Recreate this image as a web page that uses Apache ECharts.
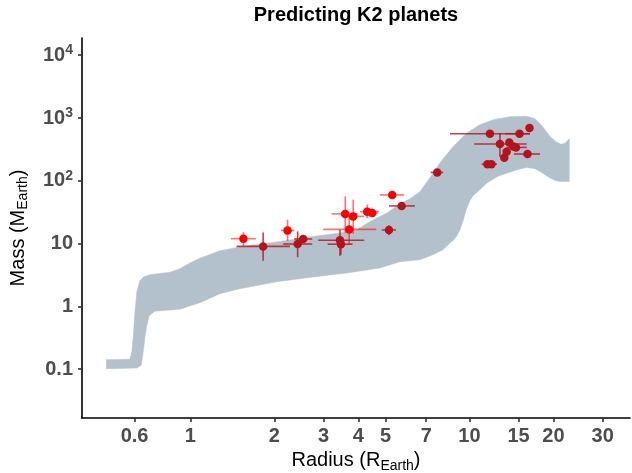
<!DOCTYPE html>
<html>
<head>
<meta charset="utf-8">
<script src="https://cdn.jsdelivr.net/npm/echarts@6/dist/echarts.min.js"></script>
<style>html,body{margin:0;padding:0;background:#fff}#c{width:632px;height:473px}</style>
</head>
<body>
<div id="c"></div>
<script>
// ---------- data ----------
const xTickValues = [0.631, 1, 2, 3, 4, 5, 7, 10, 15, 20, 30];
const xTickLabels = ['0.6', '1', '2', '3', '4', '5', '7', '10', '15', '20', '30'];
const yTickValues = [0.1, 1, 10, 100, 1000, 10000];
const yTickLabels = ['0.1', '1', '10', '10^2', '10^3', '10^4'];

// band (prediction region) edges
const bandUpperX = [0.50, 0.607, 0.617, 0.625, 0.633, 0.643, 0.659, 0.681, 0.716, 0.844, 0.917, 1.0, 1.082, 1.276, 1.505, 2.093, 2.748, 3.435, 3.953, 4.399, 5.063, 5.636, 6.119, 6.645, 7.22, 7.841, 8.729, 9.772, 10.9, 12.17, 13.97, 16.03, 17.17, 18.19, 19.43, 20.42, 21.28, 22.0, 22.79];
const bandUpperY = [0.142, 0.144, 0.19, 0.354, 0.823, 1.714, 2.566, 2.971, 3.198, 3.504, 3.984, 4.965, 5.855, 7.708, 8.83, 10.84, 13.02, 14.75, 16.65, 22.57, 30.72, 43.19, 51.88, 67.06, 112, 194.2, 349.1, 576.9, 782.2, 939.7, 1049, 1068, 974.8, 754.1, 509.3, 419.4, 382.5, 396.8, 468.1];
const bandLowerX = [0.50, 0.643, 0.667, 0.677, 0.687, 0.697, 0.712, 0.746, 0.917, 1.082, 1.276, 1.505, 2.042, 2.748, 3.638, 4.777, 5.636, 6.645, 7.401, 8.035, 8.514, 8.766, 9.02, 9.247, 9.478, 9.755, 10.04, 10.29, 10.90, 11.55, 12.60, 14.80, 16.03, 17.17, 17.89, 19.43, 20.42, 21.10, 22.79];
const bandLowerY = [0.102, 0.104, 0.116, 0.183, 0.317, 0.48, 0.711, 0.839, 0.902, 1.145, 1.593, 1.913, 2.474, 2.939, 3.403, 4.088, 5.15, 5.541, 6.658, 7.996, 10.22, 11.33, 13.3, 16.65, 23.0, 36.0, 48.0, 58.0, 72.17, 92.25, 117.5, 150.2, 163.5, 155.8, 141.1, 110.8, 100.4, 97.8, 97.8];

// planets, group A (bright red)
const aRadius   = [1.549, 2.230, 3.588, 3.832, 3.708, 4.302, 4.483, 5.288];
const aRadiusLo = [1.397, 2.111, 3.207, 3.669, 2.992, 4.051, 4.327, 4.777];
const aRadiusHi = [1.717, 2.359, 3.969, 4.187, 4.634, 4.738, 4.700, 5.834];
const aMass     = [11.97, 16.23, 29.7, 27.1, 16.83, 32.2, 30.8, 59.6];
const aMassLo   = [9.09, 11.04, 14.92, 14.38, 9.61, 25.4, 28.5, 55.0];
const aMassHi   = [15.19, 24.02, 56.4, 50.0, 27.1, 41.6, 33.5, 64.0];

// planets, group B (dark red)
const bRadius   = [1.823, 2.423, 2.537, 3.435, 3.463, 5.146, 5.715, 7.665, 11.60, 11.99, 11.84, 15.11, 16.41, 12.86, 13.89, 14.36, 14.68, 13.59, 13.33, 16.14];
const bRadiusLo = [1.464, 2.151, 2.355, 2.871, 3.103, 4.845, 5.146, 7.26, 11.06, 11.50, 8.514, 13.41, 16.41, 10.40, 13.89, 14.36, 13.59, 13.59, 13.33, 14.44];
const bRadiusHi = [2.274, 2.733, 2.733, 4.197, 3.814, 5.453, 6.378, 8.05, 12.52, 12.50, 16.48, 16.48, 16.41, 16.03, 13.89, 14.36, 16.03, 13.59, 13.33, 17.89];
const bMass     = [9.03, 9.85, 11.84, 11.32, 9.78, 16.52, 39.8, 136, 183.8, 183.8, 562, 562, 695, 385.5, 408.6, 353, 340.5, 290.5, 233.3, 267];
const bMassLo   = [5.34, 6.07, 10.72, 6.42, 6.66, 13.61, 37, 128, 170, 175, 562, 562, 695, 242, 408.6, 353, 340.5, 290.5, 233.3, 267];
const bMassHi   = [15.08, 15.64, 12.88, 16.65, 12.88, 19.63, 43, 145, 198, 192, 562, 562, 695, 577, 408.6, 353, 340.5, 290.5, 233.3, 267];

// ---------- chart ----------
const colA = '#FF0000';
const colB = '#B5121B';
const bandColor = '#B3C1CC';

function rows(r, rl, rh, m, ml, mh) {
  return r.map((v, i) => [v, m[i], rl[i], rh[i], ml[i], mh[i]]);
}
function errRenderer(color, op) {
  return function (params, api) {
    const x = api.value(0), y = api.value(1);
    const p1 = api.coord([api.value(2), y]), p2 = api.coord([api.value(3), y]);
    const p3 = api.coord([x, api.value(4)]), p4 = api.coord([x, api.value(5)]);
    const st = { stroke: color, lineWidth: 1.6, opacity: op };
    return { type: 'group', children: [
      { type: 'line', shape: { x1: p1[0], y1: p1[1], x2: p2[0], y2: p2[1] }, style: st },
      { type: 'line', shape: { x1: p3[0], y1: p3[1], x2: p4[0], y2: p4[1] }, style: st }
    ]};
  };
}

const chart = echarts.init(document.getElementById('c'), null, { renderer: 'canvas' });
const labelFont = 'Liberation Sans, Arial, sans-serif';

function nearestIndex(list, v) {
  let best = 0;
  list.forEach((t, i) => { if (Math.abs(Math.log(t) - Math.log(v)) < Math.abs(Math.log(list[best]) - Math.log(v))) best = i; });
  return best;
}

chart.setOption({
  backgroundColor: '#fff',
  animation: false,
  title: {
    text: 'Predicting K2 planets',
    left: 351, top: 0, textAlign: 'center',
    textStyle: { fontFamily: labelFont, fontWeight: 'bold', fontSize: 20, color: '#000' }
  },
  grid: { left: 82, right: 2, top: 38, bottom: 55, outerBoundsMode: 'none', containLabel: false },
  xAxis: {
    type: 'log', logBase: 10, min: 0.409, max: 37.6,
    name: '{a|Radius (R}{b|Earth}{a|)}',
    nameLocation: 'middle', nameGap: 30,
    nameTextStyle: { rich: {
      a: { fontFamily: labelFont, fontSize: 20, color: '#000' },
      b: { fontFamily: labelFont, fontSize: 14, color: '#000', padding: [10, 0, 0, 0] }
    }},
    axisLine: { show: true, lineStyle: { color: '#000', width: 1.6 } },
    axisTick: { show: true, length: 4, lineStyle: { color: '#333', width: 1.6 }, customValues: xTickValues },
    axisLabel: {
      customValues: xTickValues, margin: 8,
      fontFamily: labelFont, fontWeight: 'bold', fontSize: 20, color: '#4D4D4D',
      formatter: function (v) { return xTickLabels[nearestIndex(xTickValues, v)]; }
    },
    splitLine: { show: false }
  },
  yAxis: {
    type: 'log', logBase: 10, min: 0.0167, max: 18800,
    name: '{a|Mass (M}{b|Earth}{a|)}',
    nameLocation: 'middle', nameGap: 52, nameRotate: 90,
    nameTextStyle: { rich: {
      a: { fontFamily: labelFont, fontSize: 20, color: '#000' },
      b: { fontFamily: labelFont, fontSize: 14, color: '#000', padding: [10, 0, 0, 0] }
    }},
    axisLine: { show: true, lineStyle: { color: '#000', width: 1.6 } },
    axisTick: { show: true, length: 4, lineStyle: { color: '#333', width: 1.6 }, customValues: yTickValues },
    axisLabel: {
      customValues: yTickValues, margin: 9,
      fontFamily: labelFont, fontWeight: 'bold', fontSize: 20, color: '#4D4D4D',
      rich: {
        n: { fontFamily: labelFont, fontWeight: 'bold', fontSize: 20, color: '#4D4D4D' },
        s: { fontFamily: labelFont, fontWeight: 'bold', fontSize: 14, color: '#4D4D4D', padding: [0, 0, 10, 0] }
      },
      formatter: function (v) {
        const lab = yTickLabels[nearestIndex(yTickValues, v)];
        if (lab.indexOf('^') >= 0) { const p = lab.split('^'); return '{n|' + p[0] + '}{s|' + p[1] + '}'; }
        return '{n|' + lab + '}';
      }
    },
    splitLine: { show: false }
  },
  series: [
    {
      type: 'custom', name: 'band', z: 1,
      data: [[bandUpperX[0], bandUpperY[0]]],
      encode: { x: 0, y: 1 },
      renderItem: function (params, api) {
        const pts = [];
        for (let i = 0; i < bandUpperX.length; i++) pts.push(api.coord([bandUpperX[i], bandUpperY[i]]));
        for (let i = bandLowerX.length - 1; i >= 0; i--) pts.push(api.coord([bandLowerX[i], bandLowerY[i]]));
        return { type: 'polygon', shape: { points: pts }, style: { fill: bandColor, stroke: bandColor, lineWidth: 0.5 } };
      }
    },
    {
      type: 'custom', name: 'errA', z: 2,
      data: rows(aRadius, aRadiusLo, aRadiusHi, aMass, aMassLo, aMassHi),
      encode: { x: 0, y: 1 },
      renderItem: errRenderer(colA, 0.55)
    },
    {
      type: 'custom', name: 'errB', z: 2,
      data: rows(bRadius, bRadiusLo, bRadiusHi, bMass, bMassLo, bMassHi),
      encode: { x: 0, y: 1 },
      renderItem: errRenderer(colB, 0.8)
    },
    {
      type: 'scatter', name: 'A', z: 3, symbolSize: 8.5,
      itemStyle: { color: colA, opacity: 1 },
      data: aRadius.map((v, i) => [v, aMass[i]])
    },
    {
      type: 'scatter', name: 'B', z: 3, symbolSize: 8.5,
      itemStyle: { color: colB, opacity: 1 },
      data: bRadius.map((v, i) => [v, bMass[i]])
    }
  ]
});
</script>
</body>
</html>
